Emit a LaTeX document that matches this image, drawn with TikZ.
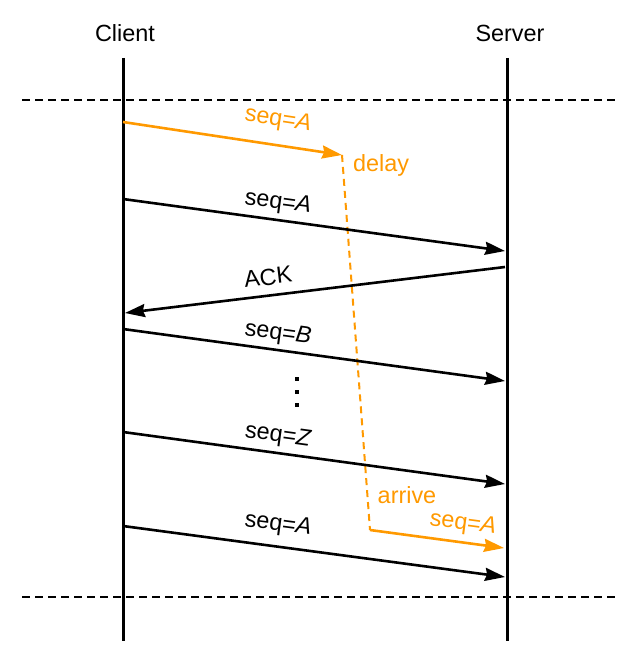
\documentclass[tikz,border=0pt]{standalone}
\usepackage{fontspec}
\setmainfont{Liberation Sans}
\usetikzlibrary{arrows.meta}
\definecolor{org}{RGB}{255,153,0}
\begin{document}
\begin{tikzpicture}[x=1bp,y=-1bp,
  lifeline/.style={line width=3bp},
  msg/.style={line width=2.6bp,-{Stealth[length=20bp,width=13bp,inset=2bp]}},
  lbl/.style={font=\fontsize{23.5}{28}\selectfont, inner sep=0pt},
  phase/.style={line width=1.5bp, dash pattern=on 8bp off 5bp},
  late/.style={line width=2bp, dash pattern=on 7bp off 5bp, org},
  dotmark/.style={rectangle, fill=black, inner sep=0pt, minimum size=3.8bp},
]
\useasboundingbox (0,0) rectangle (631,671);
% titles
\node[lbl] (client) at (125,33) {Client};
\node[lbl] (server) at (510,33) {Server};
% lifelines
\coordinate (c0) at (123,58);  \coordinate (c1) at (123,641);
\coordinate (s0) at (507,58);  \coordinate (s1) at (507,641);
\draw[lifeline] (c0) -- (c1);
\draw[lifeline] (s0) -- (s1);
% phase separators
\coordinate (p0l) at (22,100);  \coordinate (p0r) at (620,100);
\coordinate (p1l) at (22,597);  \coordinate (p1r) at (620,597);
\draw[phase] (p0l) -- (p0r);
\draw[phase] (p1l) -- (p1r);
% delayed packet
\coordinate (d0) at (123,122); \coordinate (d1) at (342,155);
\coordinate (d2) at (370,530); \coordinate (d3) at (504,548);
\draw[msg, org] (d0) -- (d1);
\draw[late] (d1) -- (d2);
\draw[msg, org] (d2) -- (d3);
\node[lbl, org, rotate=-8.6] (l1) at (278,120) {seq=\textit{A}};
\node[lbl, org] (ldelay) at (381,165) {delay};
\node[lbl, org] (larr) at (407,495) {arrive};
\node[lbl, org, rotate=-7.7] (l8) at (463,524) {seq=\textit{A}};
% regular messages
\coordinate (m2a) at (123,199); \coordinate (m2b) at (505,251);
\coordinate (m3a) at (505,267); \coordinate (m3b) at (125,313);
\coordinate (m4a) at (123,329); \coordinate (m4b) at (505,381);
\coordinate (m6a) at (123,432); \coordinate (m6b) at (505,484);
\coordinate (m7a) at (123,526); \coordinate (m7b) at (505,577);
\draw[msg] (m2a) -- (m2b);
\draw[msg] (m3a) -- (m3b);
\draw[msg] (m4a) -- (m4b);
\draw[msg] (m6a) -- (m6b);
\draw[msg] (m7a) -- (m7b);
\node[lbl, rotate=-7.75] (l2) at (278,203) {seq=\textit{A}};
\node[lbl, rotate=6.9] (l3) at (268,277) {ACK};
\node[lbl, rotate=-7.75] (l4) at (278,334) {seq=\textit{B}};
\node[lbl, rotate=-7.75] (l6) at (278,436) {seq=\textit{Z}};
\node[lbl, rotate=-7.6] (l7) at (278,525) {seq=\textit{A}};
% ellipsis
\node[dotmark] (e1) at (297,379) {};
\node[dotmark] (e2) at (297,392) {};
\node[dotmark] (e3) at (297,405) {};
\end{tikzpicture}
\end{document}
